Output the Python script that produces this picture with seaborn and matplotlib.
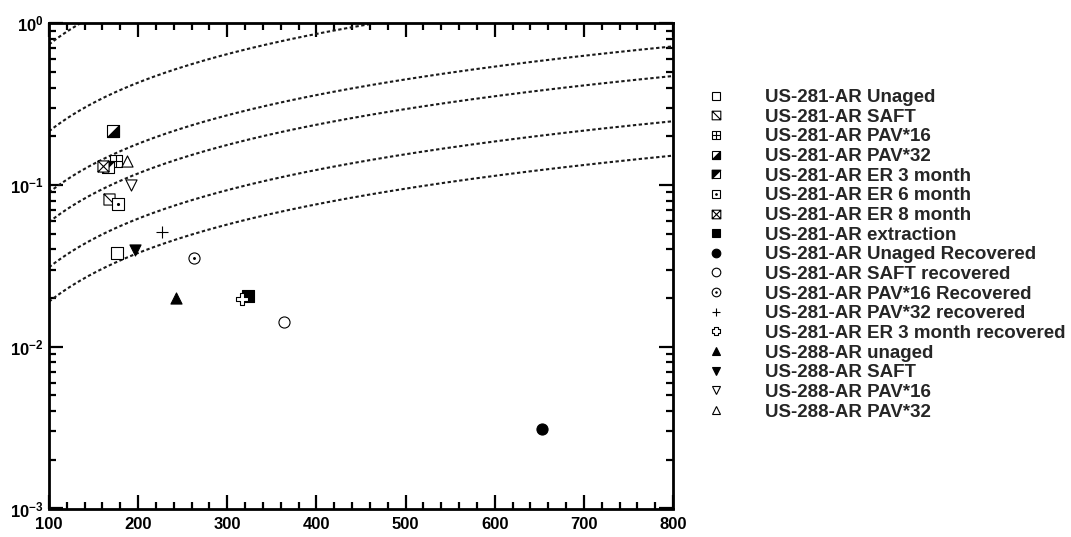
import numpy as np
import matplotlib
matplotlib.use("Agg")
import matplotlib.pyplot as plt
from matplotlib.path import Path
from matplotlib.lines import Line2D
from matplotlib.legend_handler import HandlerTuple
from matplotlib.ticker import LogLocator, NullFormatter, MultipleLocator
import seaborn as sns

# ---- data -------------------------------------------------------------
series_names = [
    "US-281-AR Unaged",
    "US-281-AR SAFT",
    "US-281-AR PAV*16",
    "US-281-AR PAV*32",
    "US-281-AR ER 3 month",
    "US-281-AR ER 6 month",
    "US-281-AR ER 8 month",
    "US-281-AR extraction",
    "US-281-AR Unaged Recovered",
    "US-281-AR SAFT recovered",
    "US-281-AR PAV*16 Recovered",
    "US-281-AR PAV*32 recovered",
    "US-281-AR ER 3 month recovered",
    "US-288-AR unaged",
    "US-288-AR SAFT",
    "US-288-AR PAV*16",
    "US-288-AR PAV*32",
]
x_values = [176.0, 167.7, 174.8, 172.2, 166.6, 177.8, 160.3, 323.7, 652.9,
            363.7, 262.7, 227.2, 316.2, 242.5, 196.5, 192.1, 187.9]
y_values = [0.038, 0.0819, 0.140, 0.217, 0.129, 0.076, 0.132, 0.0205, 0.0031,
            0.0142, 0.0354, 0.051, 0.0196, 0.0199, 0.0396, 0.0996, 0.140]

# slopes of the proportional reference curves (y = k * x)
guide_slopes = [7.4e-3, 2.15e-3, 9.0e-4, 5.9e-4, 3.1e-4, 1.9e-4]

x_ticks = [100, 200, 300, 400, 500, 600, 700, 800]
y_ticks = [1e-3, 1e-2, 1e-1, 1.0]
y_tick_labels = [r"$10^{-3}$", r"$10^{-2}$", r"$10^{-1}$", r"$10^{0}$"]

# ---- style ------------------------------------------------------------
sns.set_theme(style="ticks")
plt.rcParams["font.family"] = ["Liberation Sans", "DejaVu Sans"]
plt.rcParams["font.weight"] = "bold"
plt.rcParams["mathtext.fontset"] = "custom"
plt.rcParams["mathtext.rm"] = "Liberation Sans:bold"
plt.rcParams["mathtext.it"] = "Liberation Sans:bold"
plt.rcParams["mathtext.bf"] = "Liberation Sans:bold"
plt.rcParams["mathtext.default"] = "rm"

# ---- custom marker paths ---------------------------------------------
MV, LN, CL = Path.MOVETO, Path.LINETO, Path.CLOSEPOLY
SQ = [(-1, -1), (1, -1), (1, 1), (-1, 1), (-1, -1)]
SQC = [MV, LN, LN, LN, CL]


def boxed(verts, codes):
    return Path(SQ + verts, SQC + codes)


square_diag = boxed([(-1, 1), (1, -1)], [MV, LN])
square_grid = boxed([(0, -1), (0, 1), (-1, 0), (1, 0)], [MV, LN, MV, LN])
square_cross = boxed([(-1, -1), (1, 1), (-1, 1), (1, -1)], [MV, LN, MV, LN])
half_lower_right = Path([(-1, -1), (1, -1), (1, 1), (-1, -1)], [MV, LN, LN, CL])
half_upper_left = Path([(-1, -1), (1, 1), (-1, 1), (-1, -1)], [MV, LN, LN, CL])
a = 0.38
plus_outline = Path(
    [(-a, 1), (a, 1), (a, a), (1, a), (1, -a), (a, -a), (a, -1), (-a, -1),
     (-a, -a), (-1, -a), (-1, a), (-a, a), (-a, 1)],
    [MV] + [LN] * 11 + [CL],
)

W, K = "white", "black"
# each entry: layers of (marker, face colour, relative size)
layers = [
    [("s", W, 1.0)],
    [(square_diag, W, 1.0)],
    [(square_grid, W, 1.0)],
    [("s", W, 1.0), (half_lower_right, K, 1.0)],
    [("s", W, 1.0), (half_upper_left, K, 1.0)],
    [("s", W, 1.0), ("o", K, 0.18)],
    [(square_cross, W, 1.0)],
    [("s", K, 1.0)],
    [("o", K, 1.0)],
    [("o", W, 1.0)],
    [("o", W, 1.0), ("o", K, 0.16)],
    [("+", K, 1.0)],
    [(plus_outline, W, 1.0)],
    [("^", K, 1.0)],
    [("v", K, 1.0)],
    [("v", W, 1.0)],
    [("^", W, 1.0)],
]

MS = 8.0          # marker size in points
LEG_MS = 6.2      # legend marker size
EDGE_LW = 0.8

# ---- figure -----------------------------------------------------------
fig = plt.figure(figsize=(10.71, 5.37), dpi=100)
ax = fig.add_axes([49 / 1071, 28.5 / 537, 624 / 1071, 485.2 / 537])

# reference curves
xs = np.linspace(x_ticks[0], x_ticks[-1], 300)
for k in guide_slopes:
    sns.lineplot(x=xs, y=k * xs, ax=ax, color="#1a1a1a", lw=1.5,
                 linestyle=(0, (1.6, 1.2)), zorder=1)

# data points
for i, (xv, yv) in enumerate(zip(x_values, y_values)):
    for j, (mk, fc, sc) in enumerate(layers[i]):
        kw = dict(x=[xv], y=[yv], marker=mk, s=(MS * sc) ** 2, ax=ax,
                  zorder=3 + i * 0.01 + j * 0.001)
        if mk == "+":
            sns.scatterplot(**kw, color=K, linewidth=EDGE_LW)
        else:
            sns.scatterplot(**kw, facecolor=fc, edgecolor=K,
                            linewidth=EDGE_LW)

ax.set_yscale("log")
ax.set_xlim(x_ticks[0], x_ticks[-1])
ax.set_ylim(y_ticks[0], y_ticks[-1])
ax.set_xticks(x_ticks)
ax.set_xticklabels([str(t) for t in x_ticks])
ax.set_yticks(y_ticks)
ax.set_yticklabels(y_tick_labels)
ax.xaxis.set_minor_locator(MultipleLocator(20))
ax.yaxis.set_minor_locator(LogLocator(base=10, subs=np.arange(2, 10)))
ax.yaxis.set_minor_formatter(NullFormatter())

for sp in ax.spines.values():
    sp.set_linewidth(2.0)
    sp.set_color("black")
ax.tick_params(which="both", direction="in", top=True, right=True,
               colors="black", width=1.6)
ax.tick_params(which="major", length=10)
ax.tick_params(which="minor", length=5)
ax.tick_params(axis="x", which="major", labelsize=12, pad=6)
ax.tick_params(axis="y", which="major", labelsize=12, pad=4)
for lab in ax.get_xticklabels() + ax.get_yticklabels():
    lab.set_fontweight("bold")
ax.set_xlabel("")
ax.set_ylabel("")

# legend
handles = []
for lay in layers:
    parts = []
    for mk, fc, sc in lay:
        if mk == "+":
            parts.append(Line2D([], [], ls="", marker=mk, color=K,
                                markersize=LEG_MS * sc, markeredgewidth=EDGE_LW))
        else:
            parts.append(Line2D([], [], ls="", marker=mk, markerfacecolor=fc,
                                markeredgecolor=K, markersize=LEG_MS * sc,
                                markeredgewidth=EDGE_LW))
    handles.append(tuple(parts))

fig.legend(handles, series_names, loc="upper left",
           bbox_to_anchor=(706.6 / 1071, 1 - 89 / 537),
           frameon=False, borderpad=0, borderaxespad=0,
           handlelength=1.0, handletextpad=2.1, labelspacing=0.135,
           handler_map={tuple: HandlerTuple(ndivide=1, pad=0)},
           prop={"family": "Liberation Sans", "weight": "bold", "size": 13.5})

fig.savefig("out.png", dpi=100, facecolor="white")
